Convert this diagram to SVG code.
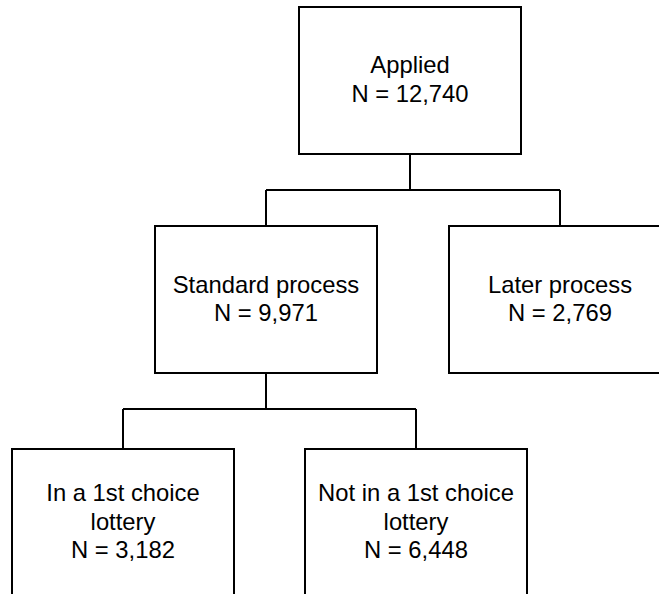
<svg xmlns="http://www.w3.org/2000/svg" width="659" height="594" viewBox="0 0 659 594">
<style>
.box{fill:#ffffff;stroke:#000000;stroke-width:2}
.conn{fill:none;stroke:#000000;stroke-width:2}
text{font-family:"Liberation Sans",Arial,sans-serif;font-size:23.8px;fill:#000000;text-anchor:middle}
</style>
<rect width="659" height="594" fill="#ffffff"/>
<g id="connectors">
<path class="conn" d="M410 154 V190 M266 190 H560 M266 190 V226 M560 190 V226"/>
<path class="conn" d="M266 373 V409 M123 409 H416 M123 409 V449 M416 409 V449"/>
</g>
<g id="applied">
<rect class="box" x="299" y="7" width="222" height="147"/>
<text x="410" y="73">Applied</text>
<text x="410" y="102">N = 12,740</text>
</g>
<g id="standard">
<rect class="box" x="155" y="226" width="222" height="147"/>
<text x="266" y="293">Standard process</text>
<text x="266" y="321">N = 9,971</text>
</g>
<g id="later">
<rect class="box" x="449" y="226" width="222" height="147"/>
<text x="560" y="293">Later process</text>
<text x="560" y="321">N = 2,769</text>
</g>
<g id="in-lottery">
<rect class="box" x="12" y="449" width="222" height="147"/>
<text x="123" y="501">In a 1st choice</text>
<text x="123" y="530">lottery</text>
<text x="123" y="558">N = 3,182</text>
</g>
<g id="not-in-lottery">
<rect class="box" x="305" y="449" width="222" height="147"/>
<text x="416" y="501">Not in a 1st choice</text>
<text x="416" y="530">lottery</text>
<text x="416" y="558">N = 6,448</text>
</g>
</svg>
